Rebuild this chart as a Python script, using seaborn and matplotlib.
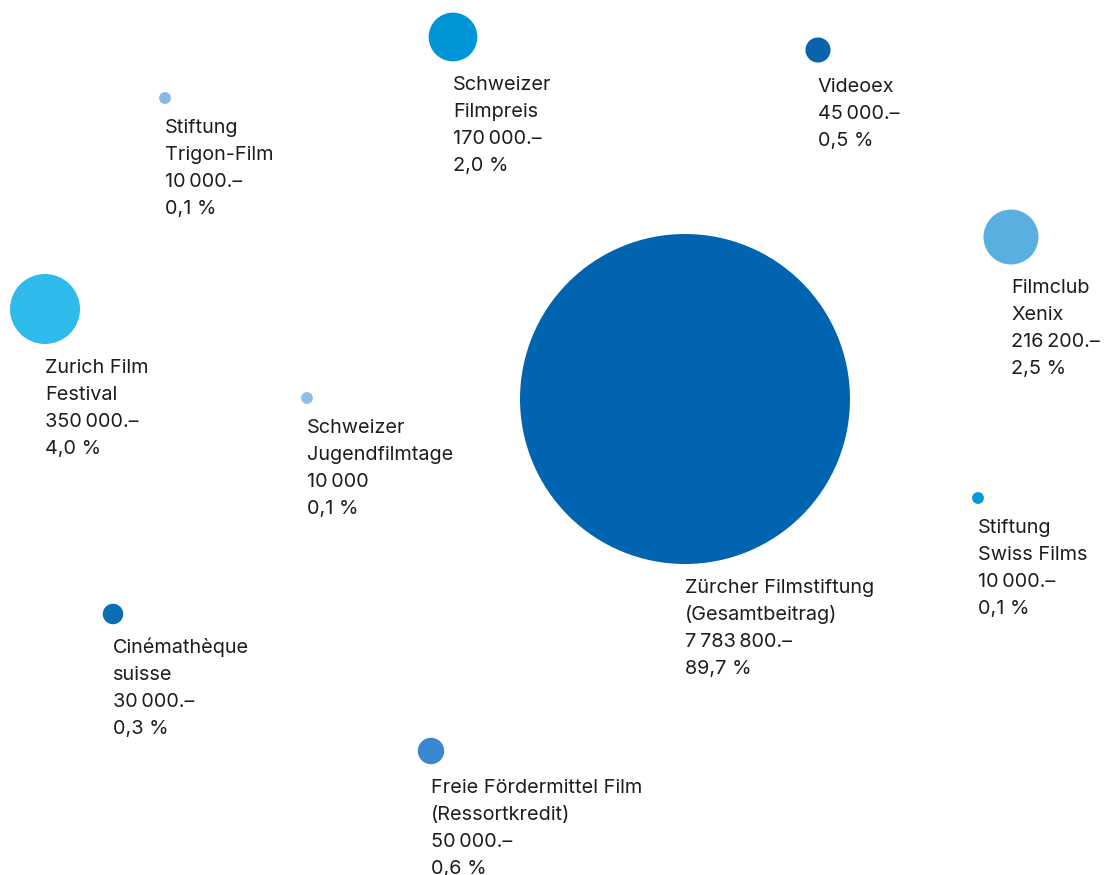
import numpy as np
import pandas as pd
import matplotlib
matplotlib.use("Agg")
import matplotlib.pyplot as plt
import seaborn as sns

# data
names = ["Schweizer\nFilmpreis", "Videoex", "Stiftung\nTrigon-Film", "Filmclub\nXenix",
         "Zurich Film\nFestival", "Schweizer\nJugendfilmtage", "Zürcher Filmstiftung\n(Gesamtbeitrag)",
         "Stiftung\nSwiss Films", "Cinémathèque\nsuisse", "Freie Fördermittel Film\n(Ressortkredit)"]
amounts = [170000, 45000, 10000, 216200, 350000, 10000, 7783800, 10000, 30000, 50000]
amount_labels = ["170\u2009000.–", "45\u2009000.–", "10\u2009000.–", "216\u2009200.–", "350\u2009000.–",
                 "10\u2009000", "7\u2009783\u2009800.–", "10\u2009000.–", "30\u2009000.–", "50\u2009000.–"]
shares = ["2,0 %", "0,5 %", "0,1 %", "2,5 %", "4,0 %", "0,1 %", "89,7 %", "0,1 %", "0,3 %", "0,6 %"]

# layout (pixel positions of bubble centres) and colours
pos_x = [453, 818, 165, 1011, 45, 307, 685, 978, 113, 431]
pos_y = [37, 50, 98, 237, 309, 398, 399, 498, 614, 751]
colors = ["#0095d6", "#0a64ad", "#86b8e6", "#5aafe1", "#2ebbec", "#8ebde8",
          "#0064b0", "#009ada", "#0a6db5", "#3a88cf"]

df = pd.DataFrame({"name": names, "amount": amounts, "x": pos_x, "y": pos_y})

# bubble area proportional to amount
k = 0.007253
fig = plt.figure(figsize=(11.04, 8.75), dpi=100)
ax = fig.add_axes([0, 0, 1, 1])
sns.scatterplot(data=df, x="x", y="y", hue="name", palette=colors, size="amount",
                sizes=(min(amounts) * k, max(amounts) * k),
                size_norm=(min(amounts), max(amounts)),
                linewidth=0, alpha=1, legend=False, ax=ax)

ax.set_xlim(0, 1104)
ax.set_ylim(875, 0)
ax.axis("off")

for i in range(len(names)):
    r = np.sqrt(amounts[i] * k) / 0.72 / 2
    lines = names[i].split("\n") + [amount_labels[i], shares[i]]
    base = pos_y[i] + r + 29
    for j, line in enumerate(lines):
        ax.text(pos_x[i], base + j * 27, line, ha="left", va="baseline",
                fontsize=14.3, color="#1d1d1b", family=["Inter", "DejaVu Sans"])

plt.savefig("out.png", dpi=100)
